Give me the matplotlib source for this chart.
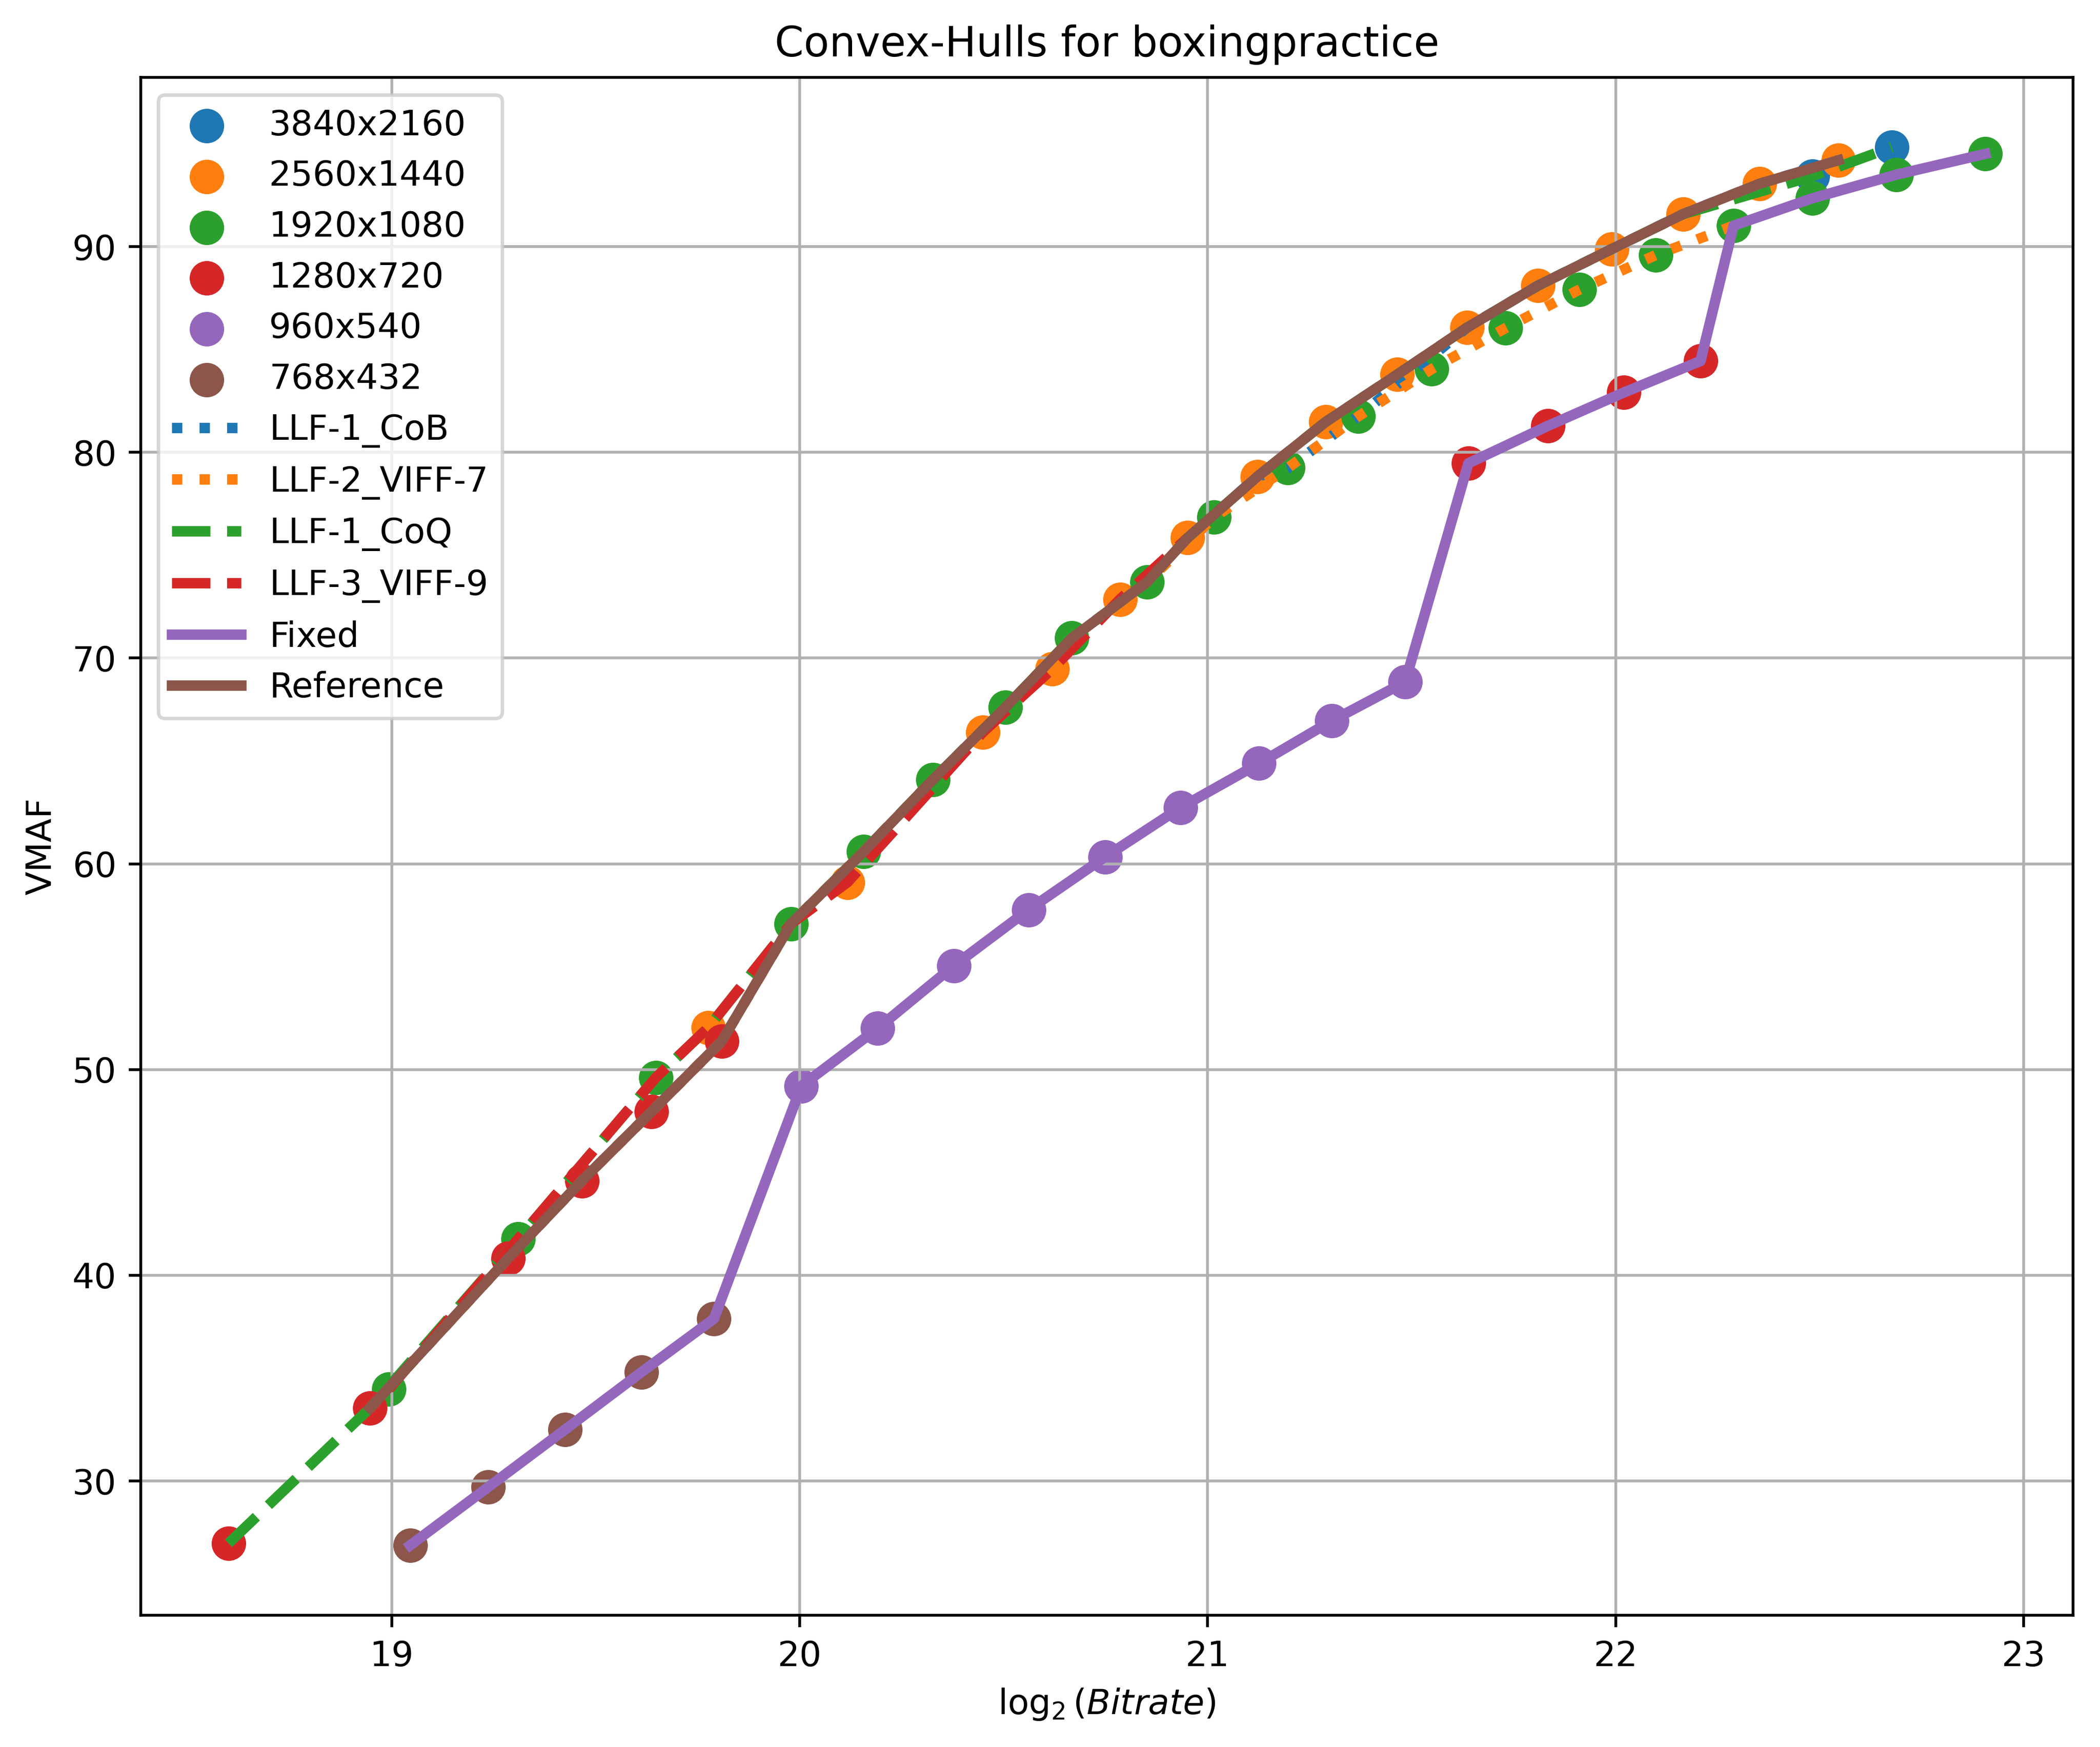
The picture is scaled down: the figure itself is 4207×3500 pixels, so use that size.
import matplotlib
matplotlib.use("Agg")
import matplotlib.pyplot as plt

# Pontos (log2 bitrate, VMAF) por resolução
x_3840 = [22.482, 22.677]
y_3840 = [93.42, 94.83]

x_2560 = [19.776, 20.117, 20.449, 20.619, 20.785, 20.951, 21.122, 21.289, 21.465,
          21.636, 21.809, 21.990, 22.165, 22.353, 22.546]
y_2560 = [52.04, 59.10, 66.40, 69.47, 72.86, 75.85, 78.83, 81.48, 83.79,
          86.07, 88.10, 89.88, 91.58, 93.06, 94.20]

x_1920 = [18.993, 19.310, 19.647, 19.979, 20.157, 20.326, 20.504, 20.667, 20.851, 21.016,
          21.197, 21.369, 21.549, 21.730, 21.911, 22.098, 22.289, 22.482, 22.688, 22.906]
y_1920 = [34.47, 41.77, 49.60, 57.09, 60.60, 64.08, 67.60, 70.97, 73.69, 76.85,
          79.25, 81.75, 84.05, 86.04, 87.91, 89.59, 91.02, 92.35, 93.50, 94.51]

x_1280 = [18.600, 18.947, 19.285, 19.466, 19.637, 19.809, 21.639, 21.834, 22.020, 22.208]
y_1280 = [26.97, 33.55, 40.82, 44.59, 47.96, 51.38, 79.47, 81.29, 82.91, 84.44]

x_960 = [20.004, 20.191, 20.378, 20.561, 20.749, 20.934, 21.126, 21.304, 21.484]
y_960 = [49.20, 52.00, 55.05, 57.77, 60.34, 62.74, 64.88, 66.95, 68.84]

x_768 = [19.045, 19.237, 19.425, 19.612, 19.790]
y_768 = [26.87, 29.71, 32.50, 35.29, 37.89]

resolucoes = ['3840x2160', '2560x1440', '1920x1080', '1280x720', '960x540', '768x432']
pontos = [(x_3840, y_3840), (x_2560, y_2560), (x_1920, y_1920),
          (x_1280, y_1280), (x_960, y_960), (x_768, y_768)]

# Convex hulls
cob_x = [18.947, 19.285, 19.466, 19.637, 19.809, 19.979, 20.157, 20.326, 20.504, 20.667,
         20.851, 20.951, 21.122, 21.197, 21.369, 21.636, 21.809, 21.990, 22.165, 22.353, 22.546]
cob_y = [33.55, 40.82, 44.59, 47.96, 51.38, 57.09, 60.60, 64.08, 67.60, 70.97,
         73.69, 75.85, 78.83, 79.25, 81.75, 86.07, 88.10, 89.88, 91.58, 93.06, 94.20]

viff7_x = [18.947, 19.285, 19.466, 19.637, 19.809, 19.979, 20.157, 20.326, 20.504, 20.667,
           20.851, 21.016, 21.197, 21.369, 21.549, 21.730, 21.911, 22.098, 22.289]
viff7_y = [33.55, 40.82, 44.59, 47.96, 51.38, 57.09, 60.60, 64.08, 67.60, 70.97,
           73.69, 76.85, 79.25, 81.75, 84.05, 86.04, 87.91, 89.59, 91.02]

coq_x = [18.600, 18.947, 19.310, 19.647, 19.776, 19.979, 20.157, 20.326, 20.504, 20.667,
         20.851, 20.951, 21.122, 21.289, 21.465, 21.636, 21.809, 21.990, 22.165, 22.482, 22.677]
coq_y = [26.97, 33.55, 41.77, 49.60, 52.04, 57.09, 60.60, 64.08, 67.60, 70.97,
         73.69, 75.85, 78.83, 81.48, 83.79, 86.07, 88.10, 89.88, 91.58, 93.42, 94.83]

viff9_x = [18.993, 19.310, 19.647, 19.776, 19.979, 20.117, 20.449, 20.619, 20.785, 20.951]
viff9_y = [34.47, 41.77, 49.60, 52.04, 57.09, 59.10, 66.40, 69.47, 72.86, 75.85]

fixed_x = [19.045, 19.237, 19.425, 19.612, 19.790, 20.004, 20.191, 20.378, 20.561, 20.749,
           20.934, 21.126, 21.304, 21.484, 21.639, 21.834, 22.020, 22.208, 22.289, 22.482,
           22.688, 22.906]
fixed_y = [26.87, 29.71, 32.50, 35.29, 37.89, 49.20, 52.00, 55.05, 57.77, 60.34,
           62.74, 64.88, 66.95, 68.84, 79.47, 81.29, 82.91, 84.44, 91.02, 92.35,
           93.50, 94.51]

ref_x = [18.947, 19.285, 19.466, 19.637, 19.809, 19.979, 20.157, 20.326, 20.504, 20.667,
         20.851, 20.951, 21.122, 21.289, 21.465, 21.636, 21.809, 21.990, 22.165, 22.353, 22.546]
ref_y = [33.55, 40.82, 44.59, 47.96, 51.38, 57.09, 60.60, 64.08, 67.60, 70.97,
         73.69, 75.85, 78.83, 81.48, 83.79, 86.07, 88.10, 89.88, 91.58, 93.06, 94.20]


fig, ax = plt.subplots(figsize=(4207 / 500, 3500 / 500), dpi=500)
fig.subplots_adjust(left=0.067, right=0.9872, bottom=0.0754, top=0.9557)

# Pontos de cada resolução
for nome, (xs, ys) in zip(resolucoes, pontos):
    ax.scatter(xs, ys, s=80, label=nome)

# Curvas
ax.plot(cob_x, cob_y, ':', color='C0', linewidth=3, label='LLF-1_CoB')
ax.plot(viff7_x, viff7_y, ':', color='C1', linewidth=3, label='LLF-2_VIFF-7')
ax.plot(coq_x, coq_y, '--', color='C2', linewidth=3, label='LLF-1_CoQ')
ax.plot(viff9_x, viff9_y, '--', color='C3', linewidth=3, label='LLF-3_VIFF-9')
ax.plot(fixed_x, fixed_y, '-', color='C4', linewidth=3, label='Fixed')
ax.plot(ref_x, ref_y, '-', color='C5', linewidth=3, label='Reference')

# Legendas
ax.set_xlabel(r'$\log_2(Bitrate)$')
ax.set_ylabel('VMAF')
ax.set_title('Convex-Hulls for boxingpractice')
ax.grid(True)
ax.legend(loc='upper left')

fig.savefig('out.png', dpi=500)
